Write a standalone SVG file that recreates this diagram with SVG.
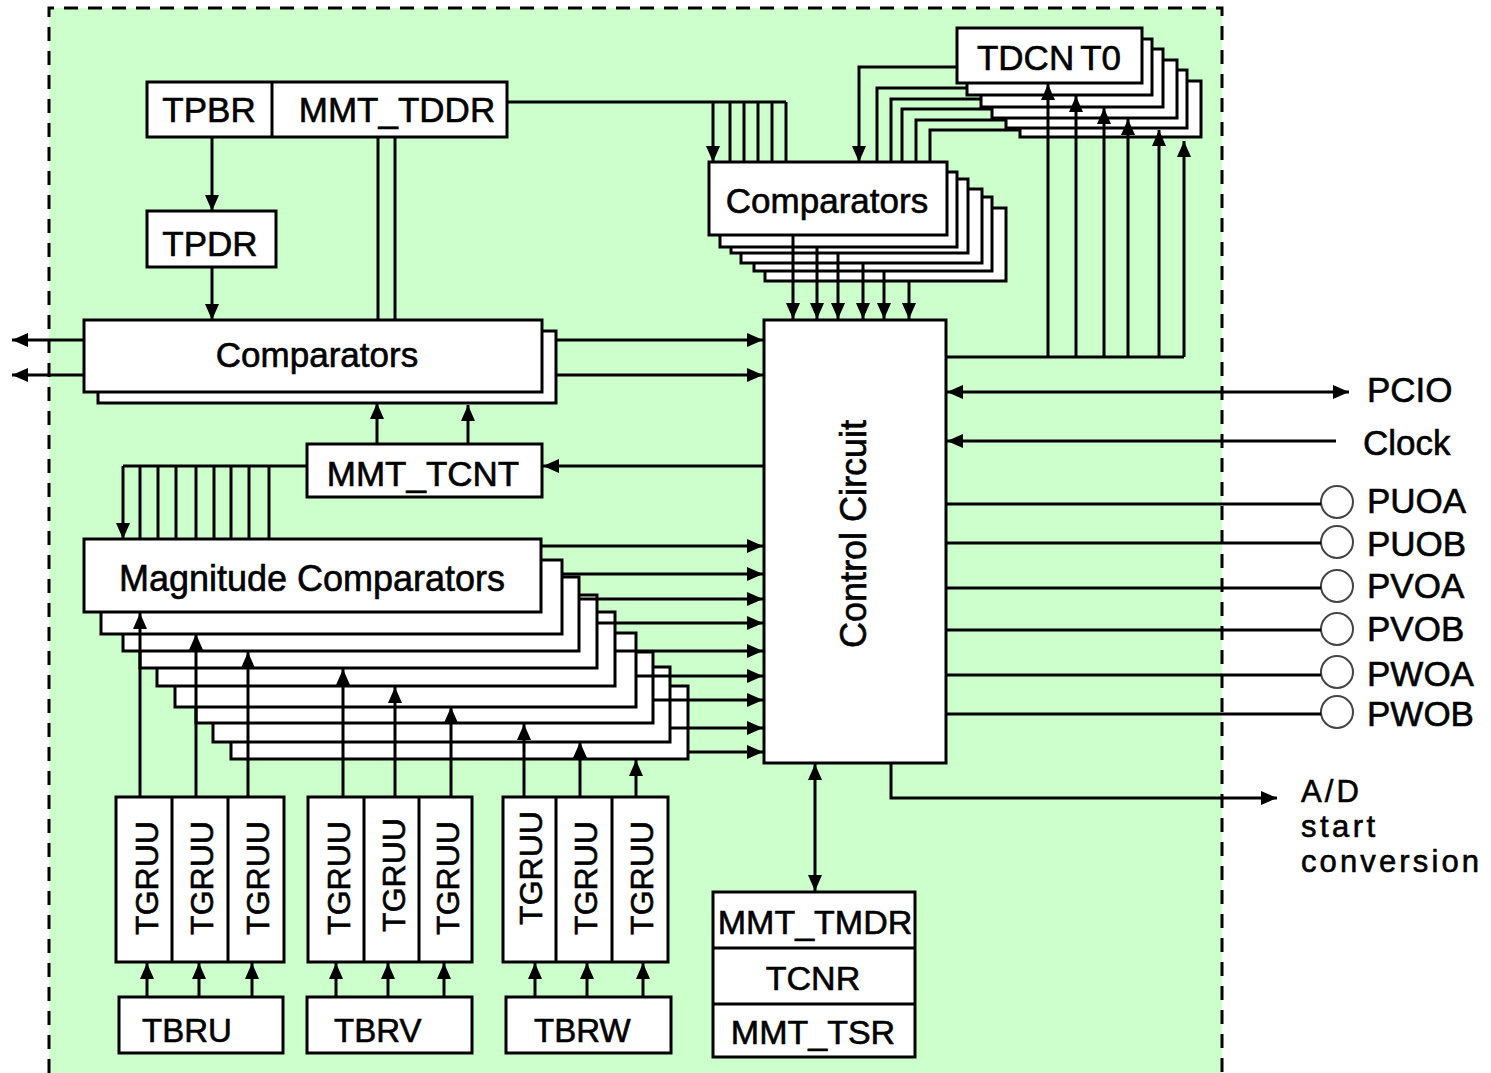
<svg xmlns="http://www.w3.org/2000/svg" width="1491" height="1073" viewBox="0 0 1491 1073">
<style>
.box{fill:#fff;stroke:#000;stroke-width:3}
.w{fill:none;stroke:#000;stroke-width:3}
.wa{fill:none;stroke:#000;stroke-width:3;marker-end:url(#ah)}
.wd{fill:none;stroke:#000;stroke-width:3;marker-end:url(#ah);marker-start:url(#ah)}
.pin{fill:#fff;stroke:#444;stroke-width:2}
.t{font-family:"Liberation Sans",Arial,sans-serif;font-size:35px;fill:#000;stroke:#000;stroke-width:0.6}
.m{text-anchor:middle}
.s{font-size:32px}
</style>
<defs>
<marker id="ah" viewBox="0 0 16 14" refX="16" refY="7" markerWidth="16" markerHeight="14" markerUnits="userSpaceOnUse" orient="auto-start-reverse"><path d="M0,0 L16,7 L0,14 z" fill="#000"/></marker>
</defs>
<rect x="0" y="0" width="1491" height="1073" fill="#fff"/>
<rect x="49" y="8" width="1173" height="1075" fill="#ccffcc"/>
<path d="M49,1073 V8 H1222 V1073" fill="none" stroke="#000" stroke-width="3" stroke-dasharray="14 10"/>

<g id="tpbr-tddr">
<rect class="box" x="147" y="82" width="360" height="55"/>
<line class="w" x1="272" y1="82" x2="272" y2="137"/>
<text class="t m" x="209" y="122">TPBR</text>
<text class="t m" x="397" y="122">MMT_TDDR</text>
</g>
<g id="tpdr">
<rect class="box" x="147" y="211" width="129" height="56"/>
<text class="t m" x="210" y="256">TPDR</text>
</g>
<g id="comparators-left">
<rect class="box" x="98" y="331" width="458" height="72"/>
<rect class="box" x="84" y="320" width="458" height="72"/>
<text class="t m" x="317" y="367">Comparators</text>
</g>
<g id="tdcnt0">
<rect class="box" x="1020" y="81" width="181" height="56"/>
<rect class="box" x="1006" y="70" width="181" height="58"/>
<rect class="box" x="992" y="60" width="185" height="58"/>
<rect class="box" x="981" y="49" width="182" height="58"/>
<rect class="box" x="967" y="39" width="185" height="56"/>
<rect class="box" x="957" y="28" width="185" height="55"/>
<text class="t m" x="1049" y="70">TDCN<tspan dx="6">T0</tspan></text>
</g>
<g id="comparators-top">
<rect class="box" x="765" y="208" width="241" height="73"/>
<rect class="box" x="754" y="197" width="238" height="74"/>
<rect class="box" x="741" y="189" width="241" height="74"/>
<rect class="box" x="731" y="179" width="237" height="74"/>
<rect class="box" x="720" y="172" width="237" height="75"/>
<rect class="box" x="709" y="162" width="238" height="73"/>
<text class="t m" x="827" y="213">Comparators</text>
</g>
<g id="control">
<rect class="box" x="764" y="320" width="182" height="443"/>
<text class="t m" transform="translate(866,534) rotate(-90)" style="font-size:36px">Control Circuit</text>
</g>
<g id="mmt-tcnt">
<rect class="box" x="307" y="444" width="235" height="53"/>
<text class="t m" x="423" y="486">MMT_TCNT</text>
</g>
<g id="magnitude">
<rect class="box" x="231" y="686" width="457" height="73"/>
<rect class="box" x="213" y="667" width="457" height="75"/>
<rect class="box" x="196" y="652" width="457" height="71"/>
<rect class="box" x="175" y="633" width="461" height="74"/>
<rect class="box" x="157" y="612" width="458" height="74"/>
<rect class="box" x="140" y="595" width="457" height="73"/>
<rect class="box" x="123" y="577" width="456" height="74"/>
<rect class="box" x="101" y="560" width="461" height="74"/>
<rect class="box" x="84" y="539" width="457" height="73"/>
<text class="t m" x="312" y="591" style="font-size:36px">Magnitude Comparators</text>
</g>
<g id="tgr-u">
<rect class="box" x="116" y="797" width="168" height="165"/>
<line class="w" x1="172" y1="797" x2="172" y2="962"/>
<line class="w" x1="228" y1="797" x2="228" y2="962"/>
<text class="t s m" transform="translate(158,878) rotate(-90)">TGRUU</text>
<text class="t s m" transform="translate(213,878) rotate(-90)">TGRUU</text>
<text class="t s m" transform="translate(269,878) rotate(-90)">TGRUU</text>
</g>
<g id="tgr-v">
<rect class="box" x="308" y="797" width="164" height="165"/>
<line class="w" x1="364" y1="797" x2="364" y2="962"/>
<line class="w" x1="419" y1="797" x2="419" y2="962"/>
<text class="t s m" transform="translate(350,878) rotate(-90)">TGRUU</text>
<text class="t s m" transform="translate(405,875) rotate(-90)">TGRUU</text>
<text class="t s m" transform="translate(459,878) rotate(-90)">TGRUU</text>
</g>
<g id="tgr-w">
<rect class="box" x="503" y="797" width="165" height="165"/>
<line class="w" x1="556" y1="797" x2="556" y2="962"/>
<line class="w" x1="612" y1="797" x2="612" y2="962"/>
<text class="t s m" transform="translate(542,868) rotate(-90)">TGRUU</text>
<text class="t s m" transform="translate(597,878) rotate(-90)">TGRUU</text>
<text class="t s m" transform="translate(653,878) rotate(-90)">TGRUU</text>
</g>
<g id="tbru">
<rect class="box" x="119" y="997" width="164" height="56"/>
<text class="t" x="142" y="1042" style="font-size:33px">TBRU</text>
</g>
<g id="tbrv">
<rect class="box" x="307" y="997" width="165" height="56"/>
<text class="t" x="334" y="1042" style="font-size:33px">TBRV</text>
</g>
<g id="tbrw">
<rect class="box" x="506" y="997" width="165" height="56"/>
<text class="t" x="534" y="1042" style="font-size:33px">TBRW</text>
</g>
<g id="mode-regs">
<rect class="box" x="713" y="892" width="202" height="165"/>
<line class="w" x1="713" y1="948" x2="915" y2="948"/>
<line class="w" x1="713" y1="1004" x2="915" y2="1004"/>
<text class="t m" x="815" y="934" style="font-size:34px">MMT_TMDR</text>
<text class="t m" x="813" y="990" style="font-size:34px">TCNR</text>
<text class="t m" x="813" y="1044" style="font-size:34px">MMT_TSR</text>
</g>
<g id="pins">
<circle class="pin" cx="1337" cy="502" r="16"/>
<circle class="pin" cx="1337" cy="542" r="16"/>
<circle class="pin" cx="1337" cy="586" r="16"/>
<circle class="pin" cx="1337" cy="629" r="16"/>
<circle class="pin" cx="1337" cy="672" r="16"/>
<circle class="pin" cx="1337" cy="712" r="16"/>
</g>
<g id="labels">
<text class="t" x="1367" y="402">PCIO</text>
<text class="t" x="1363" y="455">Clock</text>
<text class="t" x="1367" y="513">PUOA</text>
<text class="t" x="1367" y="556">PUOB</text>
<text class="t" x="1367" y="598">PVOA</text>
<text class="t" x="1367" y="641">PVOB</text>
<text class="t" x="1367" y="686">PWOA</text>
<text class="t" x="1367" y="726">PWOB</text>
<text class="t" x="1301" y="802" style="font-size:31px"><tspan x="1301" y="802" textLength="58">A/D</tspan><tspan x="1301" y="837" textLength="74">start</tspan><tspan x="1301" y="872" textLength="178">conversion</tspan></text>
</g>

<g id="connectors">
<line class="wa" x1="212" y1="137" x2="212" y2="211"/>
<line class="wa" x1="212" y1="267" x2="212" y2="320"/>
<line class="w" x1="378" y1="137" x2="378" y2="320"/>
<line class="w" x1="395" y1="137" x2="395" y2="320"/>
<path class="w" d="M507,102 H786 M730,102 V162 M744,102 V162 M758,102 V162 M772,102 V162 M786,102 V162"/>
<line class="wa" x1="713" y1="102" x2="713" y2="162"/>
<path class="wa" d="M957,67 H859 V162"/>
<path class="w" d="M967,88 H877 V162 M981,99 H891 V162 M992,109 H902 V162 M1006,120 H916 V162 M1020,130 H930 V162"/>
<path class="w" d="M946,357 H1184"/>
<line class="wa" x1="1048" y1="357" x2="1048" y2="84"/>
<line class="wa" x1="1076" y1="357" x2="1076" y2="96"/>
<line class="wa" x1="1104" y1="357" x2="1104" y2="108"/>
<line class="wa" x1="1128" y1="357" x2="1128" y2="119"/>
<line class="wa" x1="1159" y1="357" x2="1159" y2="130"/>
<line class="wa" x1="1184" y1="357" x2="1184" y2="141"/>
<line class="wa" x1="793" y1="235" x2="793" y2="319"/>
<line class="wa" x1="817" y1="247" x2="817" y2="319"/>
<line class="wa" x1="838" y1="253" x2="838" y2="319"/>
<line class="wa" x1="863" y1="263" x2="863" y2="319"/>
<line class="wa" x1="884" y1="271" x2="884" y2="319"/>
<line class="wa" x1="909" y1="281" x2="909" y2="319"/>
<line class="wa" x1="556" y1="340" x2="763" y2="340"/>
<line class="wa" x1="556" y1="375" x2="763" y2="375"/>
<line class="wa" x1="84" y1="340" x2="12" y2="340"/>
<line class="wa" x1="84" y1="375" x2="12" y2="375"/>
<line class="wa" x1="377" y1="444" x2="377" y2="403"/>
<line class="wa" x1="468" y1="444" x2="468" y2="405"/>
<line class="wa" x1="764" y1="466" x2="543" y2="466"/>
<path class="w" d="M307,466 H123 M140,466 V539 M158,466 V539 M176,466 V539 M196,466 V539 M214,466 V539 M231,466 V539 M249,466 V539 M269,466 V539"/>
<line class="wa" x1="123" y1="466" x2="123" y2="539"/>
<line class="wa" x1="541" y1="546" x2="763" y2="546"/>
<line class="wa" x1="562" y1="574" x2="763" y2="574"/>
<line class="wa" x1="579" y1="599" x2="763" y2="599"/>
<line class="wa" x1="597" y1="623" x2="763" y2="623"/>
<line class="wa" x1="615" y1="651" x2="763" y2="651"/>
<line class="wa" x1="636" y1="676" x2="763" y2="676"/>
<line class="wa" x1="653" y1="700" x2="763" y2="700"/>
<line class="wa" x1="670" y1="728" x2="763" y2="728"/>
<line class="wa" x1="688" y1="752" x2="763" y2="752"/>
<line class="wa" x1="140" y1="797" x2="140" y2="613"/>
<line class="wa" x1="196" y1="797" x2="196" y2="634"/>
<line class="wa" x1="248" y1="797" x2="248" y2="652"/>
<line class="wa" x1="343" y1="797" x2="343" y2="669"/>
<line class="wa" x1="395" y1="797" x2="395" y2="687"/>
<line class="wa" x1="451" y1="797" x2="451" y2="707"/>
<line class="wa" x1="524" y1="797" x2="524" y2="724"/>
<line class="wa" x1="580" y1="797" x2="580" y2="742"/>
<line class="wa" x1="636" y1="797" x2="636" y2="760"/>
<line class="wa" x1="147" y1="997" x2="147" y2="963"/>
<line class="wa" x1="199" y1="997" x2="199" y2="963"/>
<line class="wa" x1="252" y1="997" x2="252" y2="963"/>
<line class="wa" x1="336" y1="997" x2="336" y2="963"/>
<line class="wa" x1="388" y1="997" x2="388" y2="963"/>
<line class="wa" x1="444" y1="997" x2="444" y2="963"/>
<line class="wa" x1="535" y1="997" x2="535" y2="963"/>
<line class="wa" x1="587" y1="997" x2="587" y2="963"/>
<line class="wa" x1="643" y1="997" x2="643" y2="963"/>
<line class="wd" x1="815" y1="764" x2="815" y2="891"/>
<path class="wa" d="M891,763 V798 H1277"/>
<line class="wd" x1="947" y1="392" x2="1349" y2="392"/>
<line class="wa" x1="1336" y1="441" x2="947" y2="441"/>
<line class="w" x1="946" y1="504" x2="1321" y2="504"/>
<line class="w" x1="946" y1="543" x2="1321" y2="543"/>
<line class="w" x1="946" y1="588" x2="1321" y2="588"/>
<line class="w" x1="946" y1="630" x2="1321" y2="630"/>
<line class="w" x1="946" y1="675" x2="1321" y2="675"/>
<line class="w" x1="946" y1="714" x2="1321" y2="714"/>
</g>
</svg>
